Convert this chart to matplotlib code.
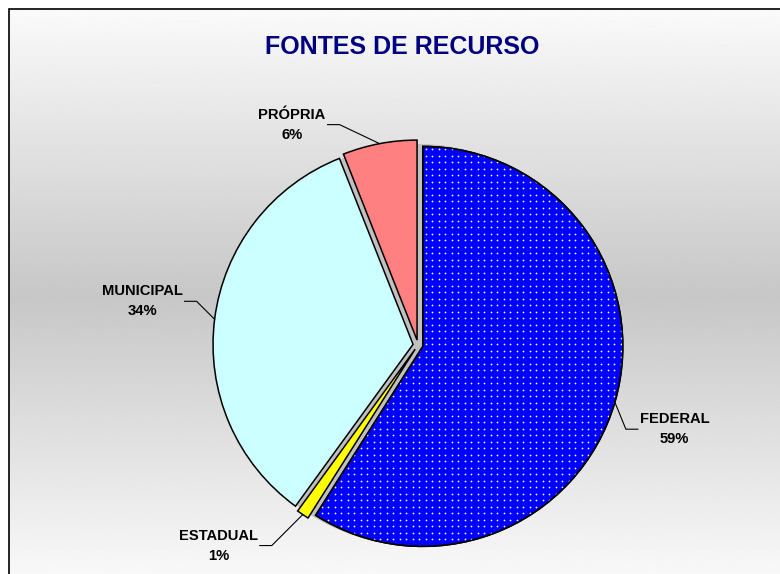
import numpy as np
import matplotlib.pyplot as plt
from matplotlib.patches import Wedge, Rectangle

labels = ["FEDERAL", "ESTADUAL", "MUNICIPAL", "PRÓPRIA"]
values = [59, 1, 34, 6]
colors = ["#0000ff", "#ffff00", "#ccffff", "#ff8080"]
# leader-line elbow offsets from the slice edge (px, y up)
elbow_offsets = [(11, -27), (-31, -31), (-18, 18), (-40, 19)]

plt.rcParams['font.family'] = ['Liberation Sans', 'DejaVu Sans']

W, H = 780, 574
fig = plt.figure(figsize=(7.8, 5.74), dpi=100)
ax = fig.add_axes([0, 0, 1, 1])

# chart area: gray gradient, light at top/bottom, darker in the middle
frame_x, frame_top = 9, H - 9
ys = np.linspace(0, 1, 300)
t = np.abs(ys - 0.5) * 2
grad = 0.78 + 0.2 * t
ax.imshow(grad[:, None], cmap='gray', vmin=0, vmax=1, aspect='auto',
          extent=(frame_x, W + 10, -10, frame_top), zorder=0)
ax.add_patch(Rectangle((frame_x, -10), W, frame_top + 10, fill=False,
                       edgecolor='black', linewidth=1.2, zorder=1))

center = (418, 229)
R = 200

# gray fill that shows in the gaps between exploded slices
ax.pie(values, radius=R + 1, center=center, startangle=90, counterclock=False,
       colors=['#c0c0c0'] * len(values), wedgeprops=dict(linewidth=0))
wedges, _ = ax.pie(values, radius=R, center=center, explode=[5] * len(values),
                   startangle=90, counterclock=False, colors=colors,
                   wedgeprops=dict(edgecolor='black', linewidth=1.1))

# white dot pattern on FEDERAL
w = wedges[0]
gx, gy = np.meshgrid(np.arange(w.center[0] + 3 - 6.5 * 32, w.center[0] + R + 6, 6.5),
                     np.arange(w.center[1] - R - 6, w.center[1] + R + 6, 6.5))
dots = ax.scatter(gx.ravel(), gy.ravel(), s=1.6, color='white',
                  linewidths=0, zorder=3)
dots.set_clip_path(w)
ax.add_patch(Wedge(w.center, w.r, w.theta1, w.theta2, fill=False,
                   edgecolor='black', linewidth=1.1, zorder=4))

total = sum(values)
for w, lab, v, (dx, dy) in zip(wedges, labels, values, elbow_offsets):
    th = np.deg2rad((w.theta1 + w.theta2) / 2)
    ex = w.center[0] + w.r * np.cos(th)
    ey = w.center[1] + w.r * np.sin(th)
    bx, by = ex + dx, ey + dy
    side = 1 if dx > 0 else -1
    hx = bx + side * 12
    ax.plot([ex, bx, hx], [ey, by, by], color='black', linewidth=0.8, zorder=5)
    ax.text(hx + side * 2, by, f"{lab}\n{round(v / total * 100)}%",
            ha='left' if side > 0 else 'right', va='center',
            multialignment='center', fontsize=10.6, fontweight='bold',
            linespacing=1.55, zorder=6)

ax.set_xlim(0, W)
ax.set_ylim(0, H)
ax.set_aspect('auto')
ax.axis('off')

fig.text(402 / W, 1 - 47 / H, "FONTES DE RECURSO", ha='center', va='center',
         fontsize=18, fontweight='bold', color='#000080')

plt.savefig("out.png", dpi=100)
